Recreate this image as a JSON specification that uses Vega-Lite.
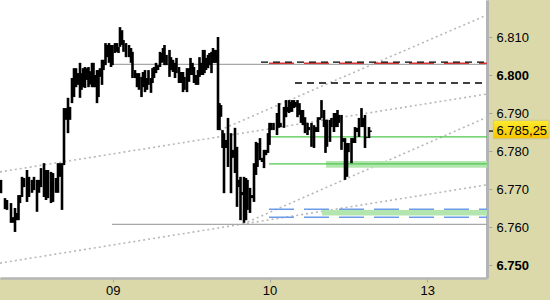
{
  "$schema": "https://vega.github.io/schema/vega-lite/v6.json",
  "width": 487,
  "height": 278,
  "autosize": {"type": "none"},
  "padding": {"left": 0, "top": 0, "right": 63, "bottom": 22},
  "background": "#dbd9aa",
  "config": {"view": {"stroke": null, "fill": "#ffffff"}, "font": "Liberation Sans"},
  "resolve": {"axis": {"x": "independent", "y": "independent"}},
  "datasets": {
    "bars": [
      {"s":1,"hi":6.7724,"lo":6.7689},{"s":5,"hi":6.7676,"lo":6.7647},{"s":7,"hi":6.7671,"lo":6.7645},
      {"s":11,"hi":6.7663,"lo":6.7611},{"s":13,"hi":6.7626,"lo":6.7611},{"s":15,"hi":6.7650,"lo":6.7587},
      {"s":17,"hi":6.7637,"lo":6.7618},{"s":18.5,"hi":6.7684,"lo":6.7618},{"s":20,"hi":6.7684,"lo":6.7663},
      {"s":22,"hi":6.7732,"lo":6.7679},{"s":24,"hi":6.7729,"lo":6.7705},{"s":27,"hi":6.7750,"lo":6.7666},
      {"s":29,"hi":6.7732,"lo":6.7679},{"s":32,"hi":6.7724,"lo":6.7690},{"s":34,"hi":6.7732,"lo":6.7697},
      {"s":37,"hi":6.7724,"lo":6.7640},{"s":39,"hi":6.7724,"lo":6.7690},{"s":41,"hi":6.7755,"lo":6.7705},
      {"s":44,"hi":6.7768,"lo":6.7679},{"s":46,"hi":6.7750,"lo":6.7671},{"s":48,"hi":6.7750,"lo":6.7676},
      {"s":51,"hi":6.7745,"lo":6.7663},{"s":53,"hi":6.7742,"lo":6.7666},{"s":56,"hi":6.7729,"lo":6.7690},
      {"s":58,"hi":6.7768,"lo":6.7690},{"s":60,"hi":6.7768,"lo":6.7732},{"s":62,"hi":6.7768,"lo":6.7645},
      {"s":64,"hi":6.7913,"lo":6.7763},{"s":66,"hi":6.7913,"lo":6.7882},{"s":68,"hi":6.7940,"lo":6.7847},
      {"s":70,"hi":6.7916,"lo":6.7882},{"s":72,"hi":6.7992,"lo":6.7926},{"s":74,"hi":6.8018,"lo":6.7942},
      {"s":76,"hi":6.8018,"lo":6.7968},{"s":78,"hi":6.8005,"lo":6.7974},{"s":80,"hi":6.8032,"lo":6.7940},
      {"s":81.5,"hi":6.8005,"lo":6.7961},{"s":83,"hi":6.8018,"lo":6.7968},{"s":85,"hi":6.8021,"lo":6.7966},
      {"s":87,"hi":6.8018,"lo":6.7987},{"s":88.5,"hi":6.8021,"lo":6.7968},{"s":90,"hi":6.8010,"lo":6.7975},
      {"s":92,"hi":6.8032,"lo":6.7968},{"s":93.5,"hi":6.8032,"lo":6.7968},{"s":95,"hi":6.8000,"lo":6.7968},
      {"s":97,"hi":6.8013,"lo":6.7926},{"s":98.5,"hi":6.8013,"lo":6.7942},{"s":100,"hi":6.8018,"lo":6.7995},
      {"s":102,"hi":6.8040,"lo":6.7974},{"s":103.5,"hi":6.8040,"lo":6.8013},{"s":105.5,"hi":6.8084,"lo":6.8026},
      {"s":107,"hi":6.8079,"lo":6.8047},{"s":109,"hi":6.8084,"lo":6.8032},{"s":111,"hi":6.8079,"lo":6.8021},
      {"s":112.5,"hi":6.8079,"lo":6.8026},{"s":115,"hi":6.8084,"lo":6.8058},{"s":117,"hi":6.8084,"lo":6.8061},
      {"s":118.5,"hi":6.8074,"lo":6.8058},{"s":120,"hi":6.8126,"lo":6.8074},{"s":122,"hi":6.8118,"lo":6.8079},
      {"s":123.5,"hi":6.8092,"lo":6.8061},{"s":126,"hi":6.8084,"lo":6.8047},{"s":129,"hi":6.8079,"lo":6.8047},
      {"s":131,"hi":6.8071,"lo":6.8032},{"s":132.5,"hi":6.8061,"lo":6.7992},{"s":135,"hi":6.8013,"lo":6.7992},
      {"s":137,"hi":6.8005,"lo":6.7968},{"s":139,"hi":6.8005,"lo":6.7961},{"s":141.5,"hi":6.7995,"lo":6.7942},
      {"s":143,"hi":6.8008,"lo":6.7968},{"s":145,"hi":6.8013,"lo":6.7955},{"s":147,"hi":6.7992,"lo":6.7961},
      {"s":148.5,"hi":6.8013,"lo":6.7974},{"s":151,"hi":6.7992,"lo":6.7953},{"s":152.5,"hi":6.8018,"lo":6.7979},
      {"s":154,"hi":6.8021,"lo":6.7992},{"s":156,"hi":6.8032,"lo":6.8005},{"s":158,"hi":6.8026,"lo":6.8013},
      {"s":160,"hi":6.8061,"lo":6.8021},{"s":161.5,"hi":6.8058,"lo":6.8032},{"s":163,"hi":6.8071,"lo":6.8034},
      {"s":164.5,"hi":6.8079,"lo":6.8026},{"s":166.5,"hi":6.8053,"lo":6.8026},{"s":169.5,"hi":6.8066,"lo":6.7995},
      {"s":171,"hi":6.8047,"lo":6.8013},{"s":173,"hi":6.8040,"lo":6.8008},{"s":175,"hi":6.8032,"lo":6.7992},
      {"s":176.5,"hi":6.8045,"lo":6.8005},{"s":179,"hi":6.8021,"lo":6.7979},{"s":181,"hi":6.8008,"lo":6.7979},
      {"s":183,"hi":6.8008,"lo":6.7955},{"s":184.5,"hi":6.7995,"lo":6.7961},{"s":187,"hi":6.8018,"lo":6.7955},
      {"s":189,"hi":6.8018,"lo":6.7982},{"s":190.5,"hi":6.8045,"lo":6.8000},{"s":192.5,"hi":6.8032,"lo":6.8000},
      {"s":194,"hi":6.8021,"lo":6.7979},{"s":196,"hi":6.8000,"lo":6.7974},{"s":198,"hi":6.8013,"lo":6.7974},
      {"s":199.5,"hi":6.8047,"lo":6.7995},{"s":201,"hi":6.8032,"lo":6.8000},{"s":203,"hi":6.8066,"lo":6.8000},
      {"s":204.5,"hi":6.8066,"lo":6.8005},{"s":206,"hi":6.8045,"lo":6.8013},{"s":208,"hi":6.8053,"lo":6.8018},
      {"s":209.5,"hi":6.8058,"lo":6.8026},{"s":211.5,"hi":6.8061,"lo":6.8005},{"s":213,"hi":6.8071,"lo":6.8032},
      {"s":214.5,"hi":6.8066,"lo":6.8032},{"s":216,"hi":6.8066,"lo":6.8032},{"s":218,"hi":6.8100,"lo":6.7855},
      {"s":219.5,"hi":6.7926,"lo":6.7855},{"s":221,"hi":6.7921,"lo":6.7890},{"s":222.5,"hi":6.7855,"lo":6.7808},
      {"s":224,"hi":6.7847,"lo":6.7689},{"s":226,"hi":6.7829,"lo":6.7808},{"s":228,"hi":6.7887,"lo":6.7758},
      {"s":231,"hi":6.7847,"lo":6.7689},{"s":233,"hi":6.7803,"lo":6.7782},{"s":235,"hi":6.7861,"lo":6.7742},
      {"s":237,"hi":6.7811,"lo":6.7653},{"s":239,"hi":6.7724,"lo":6.7705},{"s":240.5,"hi":6.7732,"lo":6.7618},
      {"s":242,"hi":6.7692,"lo":6.7684},{"s":244,"hi":6.7732,"lo":6.7611},{"s":246,"hi":6.7729,"lo":6.7618},
      {"s":247.5,"hi":6.7724,"lo":6.7645},{"s":250,"hi":6.7703,"lo":6.7637},{"s":252,"hi":6.7684,"lo":6.7676},
      {"s":254,"hi":6.7768,"lo":6.7666},{"s":256,"hi":6.7824,"lo":6.7737},{"s":257.5,"hi":6.7821,"lo":6.7758},
      {"s":260,"hi":6.7834,"lo":6.7776},{"s":262,"hi":6.7782,"lo":6.7771},{"s":264,"hi":6.7803,"lo":6.7755},
      {"s":266,"hi":6.7803,"lo":6.7789},{"s":268,"hi":6.7847,"lo":6.7795},{"s":269.5,"hi":6.7874,"lo":6.7816},
      {"s":271,"hi":6.7874,"lo":6.7855},{"s":273.5,"hi":6.7874,"lo":6.7855},{"s":277,"hi":6.7900,"lo":6.7842},
      {"s":279,"hi":6.7926,"lo":6.7861},{"s":280.5,"hi":6.7874,"lo":6.7863},{"s":284,"hi":6.7916,"lo":6.7861},
      {"s":286,"hi":6.7934,"lo":6.7889},{"s":287.5,"hi":6.7916,"lo":6.7903},{"s":289,"hi":6.7934,"lo":6.7900},
      {"s":290.5,"hi":6.7929,"lo":6.7903},{"s":292,"hi":6.7934,"lo":6.7903},{"s":294,"hi":6.7934,"lo":6.7913},
      {"s":295.5,"hi":6.7929,"lo":6.7916},{"s":297.5,"hi":6.7934,"lo":6.7889},{"s":299.5,"hi":6.7926,"lo":6.7895},
      {"s":301,"hi":6.7908,"lo":6.7874},{"s":303,"hi":6.7908,"lo":6.7868},{"s":305,"hi":6.7889,"lo":6.7847},
      {"s":307.5,"hi":6.7874,"lo":6.7842},{"s":309,"hi":6.7863,"lo":6.7855},{"s":311.5,"hi":6.7874,"lo":6.7811},
      {"s":314,"hi":6.7868,"lo":6.7808},{"s":316,"hi":6.7863,"lo":6.7850},{"s":318,"hi":6.7889,"lo":6.7850},
      {"s":320,"hi":6.7889,"lo":6.7882},{"s":321.5,"hi":6.7934,"lo":6.7887},{"s":324,"hi":6.7908,"lo":6.7863},
      {"s":325.5,"hi":6.7882,"lo":6.7795},{"s":327,"hi":6.7882,"lo":6.7811},{"s":330,"hi":6.7882,"lo":6.7824},
      {"s":331.5,"hi":6.7887,"lo":6.7863},{"s":334,"hi":6.7900,"lo":6.7850},{"s":336,"hi":6.7900,"lo":6.7863},
      {"s":337.5,"hi":6.7908,"lo":6.7863},{"s":339,"hi":6.7895,"lo":6.7874},{"s":341.5,"hi":6.7895,"lo":6.7803},
      {"s":343,"hi":6.7834,"lo":6.7824},{"s":345,"hi":6.7834,"lo":6.7724},{"s":347,"hi":6.7821,"lo":6.7732},
      {"s":348.5,"hi":6.7821,"lo":6.7797},{"s":351.5,"hi":6.7834,"lo":6.7768},{"s":353,"hi":6.7834,"lo":6.7821},
      {"s":355,"hi":6.7863,"lo":6.7821},{"s":357,"hi":6.7861,"lo":6.7850},{"s":359,"hi":6.7887,"lo":6.7837},
      {"s":361.5,"hi":6.7913,"lo":6.7863},{"s":363,"hi":6.7887,"lo":6.7863},{"s":365,"hi":6.7895,"lo":6.7808},
      {"s":366.5,"hi":6.7837,"lo":6.7834},{"s":369,"hi":6.7863,"lo":6.7834},{"s":370.5,"hi":6.7854,"lo":6.7850}
    ],
    "levels": [
      {"k":"gray","x1":112,"x2":487,"v":6.8028},
      {"k":"gray","x1":112,"x2":487,"v":6.7607},
      {"k":"green","x1":269,"x2":487,"v":6.7837},
      {"k":"green","x1":269,"x2":487,"v":6.7766},
      {"k":"blue","x1":269,"x2":487,"v":6.7647},
      {"k":"blue","x1":269,"x2":487,"v":6.7626},
      {"k":"red","x1":269,"x2":487,"v":6.8031},
      {"k":"black","x1":261,"x2":487,"v":6.8034},
      {"k":"black","x1":295,"x2":487,"v":6.7979}
    ],
    "bands": [
      {"x1":326,"x2":487,"v1":6.7774,"v2":6.7756},
      {"x1":322,"x2":487,"v1":6.7645,"v2":6.7630}
    ],
    "trends": [
      {"x1":0,"x2":487,"v1":6.7745,"v2":6.7950},
      {"x1":220,"x2":487,"v1":6.7855,"v2":6.8158},
      {"x1":0,"x2":487,"v1":6.7505,"v2":6.7711},
      {"x1":243,"x2":487,"v1":6.7608,"v2":6.7889}
    ],
    "price": [{"p":6.78525,"label":"6.785,25"}]
  },
  "layer": [
    {
      "data": {"name": "trends"},
      "mark": {"type": "rule", "color": "#b8b8b8", "strokeWidth": 1.6, "strokeDash": [2, 3]},
      "encoding": {
        "x": {"field": "x1", "type": "quantitative",
          "scale": {"domain": [0, 487], "nice": false, "zero": false},
          "axis": {"values": [112.7, 269.5, 427.3],
            "labelExpr": "datum.value < 200 ? '09' : (datum.value < 350 ? '10' : '13')",
            "title": null, "grid": false, "domainColor": "#b4b4b4", "domainWidth": 2.5,
            "tickColor": "#a8a8a8", "tickSize": 4, "labelFont": "Liberation Sans", "labelFontSize": 13,
            "labelColor": "#000000", "labelPadding": 2, "labelFlush": false}},
        "x2": {"field": "x2"},
        "y": {"field": "v1", "type": "quantitative",
          "scale": {"domain": [6.74658, 6.81974], "nice": false, "zero": false},
          "axis": {"orient": "right", "values": [6.75, 6.76, 6.77, 6.78, 6.79, 6.8, 6.81, 6.82],
            "format": ".3f", "title": null, "grid": false, "domainColor": "#b4b4b4", "domainWidth": 3,
            "tickColor": "#a8a8a8", "tickSize": 5, "labelFont": "Liberation Sans", "labelFontSize": 13,
            "labelColor": "#000000", "labelPadding": 4, "labelFlush": false, "labelOverlap": false, "labelBound": false,
            "labelFontWeight": {"condition": {"test": "round(datum.value*1000) % 50 === 0", "value": "bold"}, "value": "normal"}}},
        "y2": {"field": "v2"}
      }
    },
    {
      "data": {"name": "bands"},
      "mark": {"type": "rect", "color": "#b3e6ae"},
      "encoding": {
        "x": {"field": "x1", "type": "quantitative", "axis": null},
        "x2": {"field": "x2"},
        "y": {"field": "v1", "type": "quantitative", "axis": null},
        "y2": {"field": "v2"}
      }
    },
    {
      "data": {"name": "levels"},
      "transform": [{"filter": "datum.k === 'gray'"}],
      "mark": {"type": "rule", "color": "#a8a8a8", "strokeWidth": 1.3},
      "encoding": {
        "x": {"field": "x1", "type": "quantitative", "axis": null},
        "x2": {"field": "x2"},
        "y": {"field": "v", "type": "quantitative", "axis": null}
      }
    },
    {
      "data": {"name": "levels"},
      "transform": [{"filter": "datum.k === 'green'"}],
      "mark": {"type": "rule", "color": "#4cc94c", "strokeWidth": 1.3},
      "encoding": {
        "x": {"field": "x1", "type": "quantitative", "axis": null},
        "x2": {"field": "x2"},
        "y": {"field": "v", "type": "quantitative", "axis": null}
      }
    },
    {
      "data": {"name": "levels"},
      "transform": [{"filter": "datum.k === 'blue'"}],
      "mark": {"type": "rule", "color": "#6c9be8", "strokeWidth": 1.5, "strokeDash": [25, 10]},
      "encoding": {
        "x": {"field": "x1", "type": "quantitative", "axis": null},
        "x2": {"field": "x2"},
        "y": {"field": "v", "type": "quantitative", "axis": null}
      }
    },
    {
      "data": {"name": "levels"},
      "transform": [{"filter": "datum.k === 'red'"}],
      "mark": {"type": "rule", "color": "#d83a3a", "strokeWidth": 1.4, "strokeDash": [25, 10]},
      "encoding": {
        "x": {"field": "x1", "type": "quantitative", "axis": null},
        "x2": {"field": "x2"},
        "y": {"field": "v", "type": "quantitative", "axis": null}
      }
    },
    {
      "data": {"name": "levels"},
      "transform": [{"filter": "datum.k === 'black'"}],
      "mark": {"type": "rule", "color": "#000000", "strokeWidth": 1.3, "strokeDash": [7, 5]},
      "encoding": {
        "x": {"field": "x1", "type": "quantitative", "axis": null},
        "x2": {"field": "x2"},
        "y": {"field": "v", "type": "quantitative", "axis": null}
      }
    },
    {
      "data": {"name": "bars"},
      "mark": {"type": "rule", "color": "#000000", "strokeWidth": 2.6},
      "encoding": {
        "x": {"field": "s", "type": "quantitative", "axis": null},
        "y": {"field": "hi", "type": "quantitative", "axis": null},
        "y2": {"field": "lo"}
      }
    },
    {
      "data": {"name": "price"},
      "mark": {"type": "rect", "stroke": "#c9c7a0", "strokeWidth": 1,
        "color": {"gradient": "linear", "x1": 0, "y1": 0, "x2": 0, "y2": 1,
          "stops": [{"offset": 0, "color": "#ffec30"}, {"offset": 1, "color": "#f6c200"}]}},
      "encoding": {
        "x": {"datum": 493.5, "type": "quantitative", "axis": null},
        "x2": {"datum": 549},
        "y": {"datum": 6.7881, "type": "quantitative", "axis": null},
        "y2": {"datum": 6.7832}
      }
    },
    {
      "data": {"name": "price"},
      "mark": {"type": "rule", "color": "#000000", "strokeWidth": 1.2},
      "encoding": {
        "x": {"datum": 489, "type": "quantitative", "axis": null},
        "x2": {"datum": 493},
        "y": {"field": "p", "type": "quantitative", "axis": null}
      }
    },
    {
      "data": {"name": "price"},
      "mark": {"type": "text", "align": "left", "baseline": "middle", "font": "Liberation Sans", "fontSize": 13, "color": "#000000"},
      "encoding": {
        "x": {"datum": 496.5, "type": "quantitative", "axis": null},
        "y": {"field": "p", "type": "quantitative", "axis": null},
        "text": {"field": "label"}
      }
    }
  ]
}
